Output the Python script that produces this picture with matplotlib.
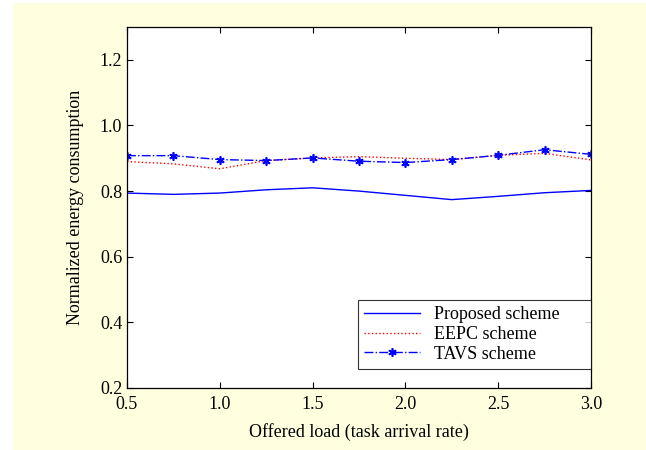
import matplotlib
import matplotlib.pyplot as plt
from matplotlib.patches import Rectangle

matplotlib.use('Agg')
plt.rcParams['font.family'] = ['Liberation Serif', 'DejaVu Serif']

# Offered load values
load = [0.5, 0.75, 1.0, 1.25, 1.5, 1.75, 2.0, 2.25, 2.5, 2.75, 3.0]

# Normalized energy consumption for each scheme
proposed = [0.794, 0.790, 0.794, 0.804, 0.810, 0.800, 0.787, 0.774, 0.784, 0.795, 0.802]
eepc = [0.890, 0.883, 0.868, 0.893, 0.901, 0.905, 0.900, 0.896, 0.909, 0.915, 0.895]
tavs = [0.908, 0.908, 0.896, 0.893, 0.901, 0.891, 0.887, 0.896, 0.909, 0.926, 0.912]

yticks = [0.2, 0.4, 0.6, 0.8, 1.0, 1.2]
xticks = [0.5, 1.0, 1.5, 2.0, 2.5, 3.0]

fig = plt.figure(figsize=(6.46, 4.5), dpi=100)
fig.patch.set_facecolor('white')
fig.patches.append(Rectangle((13 / 646, 0), 1, 1 - 3 / 450, transform=fig.transFigure,
                             facecolor='#ffffe0', edgecolor='none', zorder=-1))

ax = fig.add_axes([127 / 646, 1 - 388 / 450, 464 / 646, 361 / 450])
ax.plot(load, proposed, color='blue', linestyle='-', linewidth=1.0, label='Proposed scheme')
ax.plot(load, eepc, color='red', linestyle=':', linewidth=1.0, label='EEPC scheme')
ax.plot(load, tavs, color='blue', linestyle='-.', linewidth=1.0, marker=(6, 2, 0),
        markersize=6, markeredgewidth=1.2, label='TAVS scheme')

ax.set_xlim(0.5, 3.0)
ax.set_ylim(0.2, 1.3)
ax.set_xticks(xticks)
ax.set_yticks(yticks)
ax.set_xticklabels(['%.1f' % v for v in xticks])
ax.set_yticklabels(['%.1f' % v for v in yticks])
ax.tick_params(direction='in', top=True, right=True, labelsize=13, length=4, width=0.8)
ax.tick_params(axis='x', pad=6)
for s in ax.spines.values():
    s.set_linewidth(0.9)

ax.set_xlabel('Offered load (task arrival rate)', fontsize=13, labelpad=7)
ax.set_ylabel('Normalized energy consumption', fontsize=13, labelpad=11)

leg = ax.legend(loc='lower left', bbox_to_anchor=(0.498, 0.053, 0.502, 0.188), mode='expand',
                fontsize=13, frameon=True, fancybox=False, edgecolor='black',
                handlelength=3.1, borderpad=0.35, labelspacing=0.15, handletextpad=0.75,
                borderaxespad=0)
leg.get_frame().set_linewidth(0.8)

plt.savefig('out.png', dpi=100, facecolor=fig.get_facecolor())
plt.close()
